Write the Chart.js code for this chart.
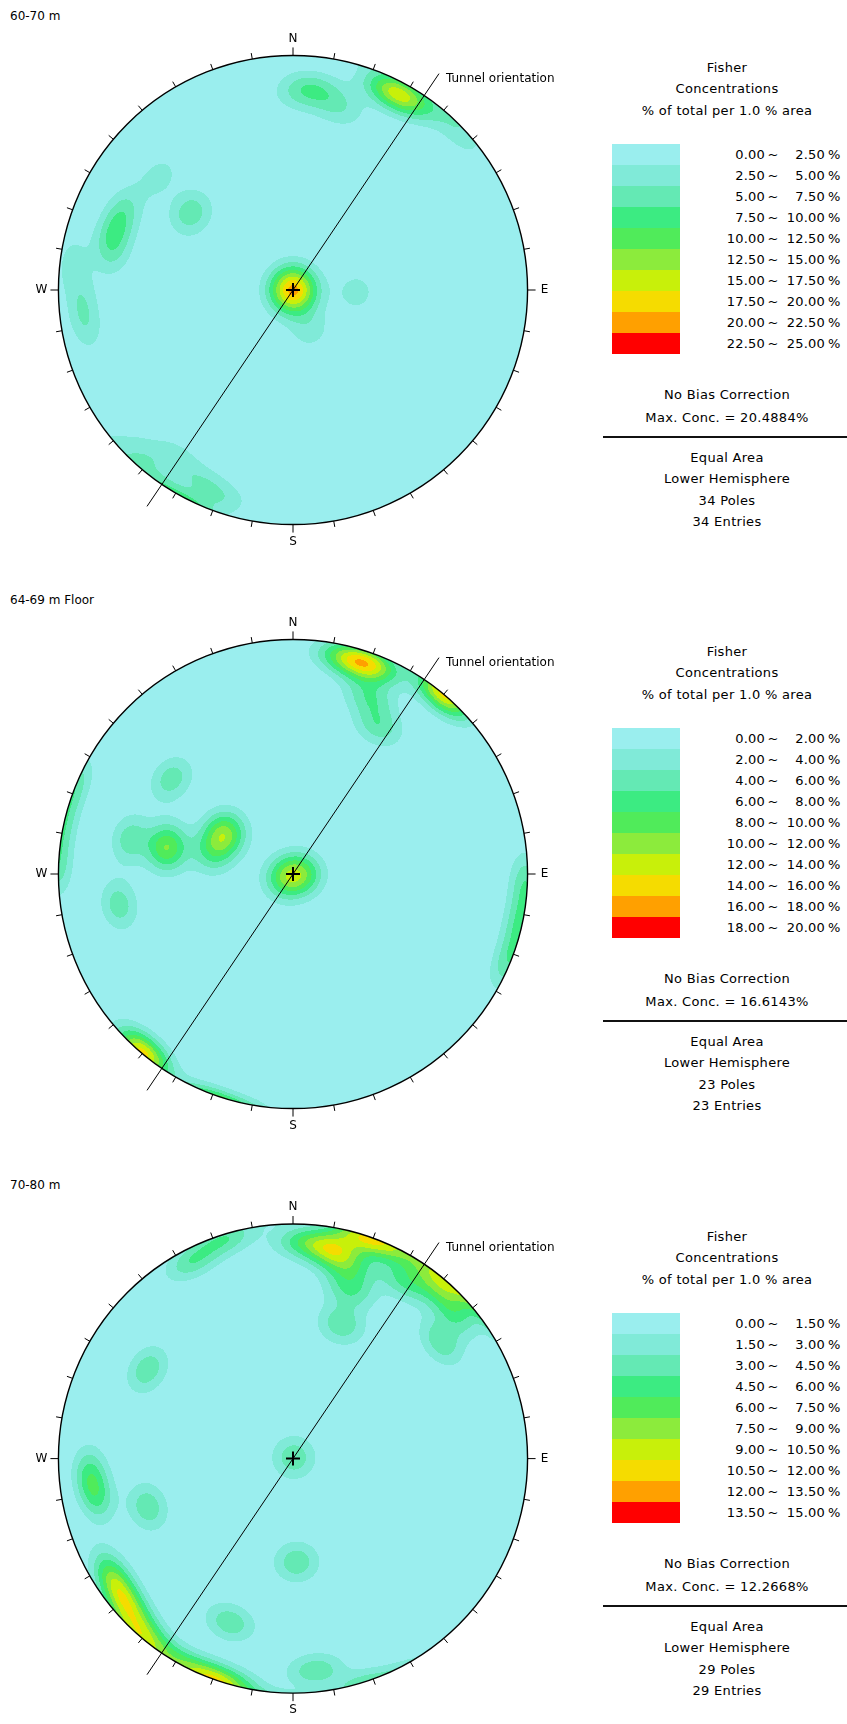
<!DOCTYPE html>
<html><head><meta charset="utf-8">
<script src="https://cdn.jsdelivr.net/npm/chart.js@4.4.1/dist/chart.umd.min.js"></script>
<style>
html,body{margin:0;padding:0;background:#fff;}
body{width:847px;height:1724px;position:relative;overflow:hidden;font-family:"DejaVu Sans",sans-serif;color:#000;}
.panel{position:absolute;left:0;width:847px;}
.title{position:absolute;left:10px;top:9px;font-size:12px;line-height:14px;white-space:nowrap;}
canvas{position:absolute;left:0;top:0;}
.ct{position:absolute;left:602px;width:250px;text-align:center;font-size:13px;line-height:20px;letter-spacing:0.3px;white-space:nowrap;}
.box{position:absolute;left:612px;width:68px;height:21px;}
.lab{position:absolute;font-size:13px;line-height:21px;white-space:nowrap;letter-spacing:0.2px;}
.rule{position:absolute;left:603px;width:244px;height:2px;background:#111;}
</style>
</head><body>
<script>
// ---------------- data ----------------
const panelTitles = ['60-70 m', '64-69 m Floor', '70-80 m'];
const contourSteps = [2.5, 2.0, 1.5];               // % per contour interval
const maxConcText = ['20.4884', '16.6143', '12.2668'];
const tunnelTrend = 34;                             // degrees
const fisherK = 120;
const levelColors = ['#9aeeee','#80ead8','#64e9b4','#3ceb82','#50eb5a','#8ceb3c','#c8f00a','#f5dc00','#ffa000','#ff0000'];

// poles (trend / plunge, degrees)
const poles1Trend  = [0,20,80,140,200,260,320, 157, 92, 310, 308,306, 285.9,281.6,290.9,267.4,259.9,277,295.9, 4,10,15,2, 28.8,27,30.6,28.5,36,23.7, 47, 205,215,222,198.8];
const poles1Plunge = [90,86.7,86.7,86.7,86.7,86.7,86.7, 75, 68, 26, 43,46, 19.9,23,22.4,10.7,11.6,5.7,20.7, 13,16.5,22,18, 5.3,5.1,5.6,8.2,3,6, 2.7, 10.6,14,6.3,6.9];
const poles2Trend  = [0,90,240, 302.6,298.8,284.8, 283.1,280.7,282.1, 308, 260, 92,102,112, 19,17,22,12,23.5,30, 219,221,40];
const poles2Plunge = [90,86,86, 61.1,63.4,60.9, 43,45.6,29.7, 34.5, 25.6, 1,1.5,1, 5.7,7.5,4.5,5,19,28, 1,2,2];
const poles3Trend  = [35, 301.5, 266,259, 251.6, 178, 201, 174, 343,333, 51.7, 11,9.6,16,18.7,19.8,20,2, 224,229,233,238,219,210,202,195, 39.4,48,32];
const poles3Plunge = [89.5, 28, 14,16, 35, 53.5, 26, 10, 2,6, 20.5, 10.9,9.1,16,25,39,2,8, 4,7,7.5,9.5,2,0.5,0.8,0.5, 5,8,12];

const poleTrends  = [poles1Trend, poles2Trend, poles3Trend];
const polePlunges = [poles1Plunge, poles2Plunge, poles3Plunge];

// ---------------- layout ----------------
const panelTops = [0, 584, 1169];
const panelHeights = [580, 580, 555];
const netCenter = {x: 293, y: 290};
const netRadius = 242;
const canvasW = 586;

const D = Math.PI / 180;
function hexRgb(h){ return [parseInt(h.substr(1,2),16), parseInt(h.substr(3,2),16), parseInt(h.substr(5,2),16)]; }
const rgbColors = levelColors.map(hexRgb);

const stereoPlugin = {
  id: 'stereo',
  beforeDatasetsDraw(chart, args, opts) {
    const {ctx} = chart; const xs = chart.scales.x, ys = chart.scales.y;
    const cx = xs.getPixelForValue(0), cy = ys.getPixelForValue(0);
    const R = xs.getPixelForValue(1) - cx;
    const vecs = opts.trends.map((t, i) => {
      const p = opts.plunges[i];
      return [Math.cos(p*D)*Math.sin(t*D), Math.cos(p*D)*Math.cos(t*D), Math.sin(p*D)];
    });
    const N = vecs.length, k = opts.k, step = opts.step;
    const x0 = Math.floor(cx - R) - 2, y0 = Math.floor(cy - R) - 2;
    const w = Math.ceil(2*R) + 5, h = Math.ceil(2*R) + 5;
    const off = document.createElement('canvas'); off.width = w; off.height = h;
    const octx = off.getContext('2d'); const img = octx.createImageData(w, h); const dd = img.data;
    for (let j = 0; j < h; j++) {
      let vy = ys.getValueForPixel(y0 + j + 0.5);
      for (let i = 0; i < w; i++) {
        let vx = xs.getValueForPixel(x0 + i + 0.5);
        let r2 = vx*vx + vy*vy;
        if (r2 > 1.03) continue;
        let ux = vx, uy = vy;
        if (r2 > 1) { const s = 1/Math.sqrt(r2); ux *= s; uy *= s; r2 = 1; }
        const s2 = Math.sqrt(2 - r2);
        const gx = ux*s2, gy = uy*s2, gz = 1 - r2;
        let sum = 0;
        for (let m = 0; m < N; m++) {
          const v = vecs[m];
          const c = Math.abs(gx*v[0] + gy*v[1] + gz*v[2]);
          if (c > 0.9) sum += Math.exp(k*(c - 1));
        }
        const val = sum * k / N;
        const lev = Math.min(9, Math.floor(val / step));
        const col = rgbColors[lev];
        const o = (j*w + i)*4;
        dd[o] = col[0]; dd[o+1] = col[1]; dd[o+2] = col[2]; dd[o+3] = 255;
      }
    }
    octx.putImageData(img, 0, 0);
    ctx.save();
    ctx.beginPath(); ctx.arc(cx, cy, R, 0, Math.PI*2); ctx.clip();
    ctx.drawImage(off, x0, y0);
    ctx.restore();
    // primitive circle and 10-degree ticks
    ctx.save();
    ctx.strokeStyle = '#000'; ctx.lineWidth = 1.4;
    ctx.beginPath(); ctx.arc(cx, cy, R, 0, Math.PI*2); ctx.stroke();
    ctx.lineWidth = 1;
    for (let a = 0; a < 360; a += 10) {
      const len = (a % 90 === 0) ? 8 : 6;
      const sx = Math.sin(a*D), sy = -Math.cos(a*D);
      ctx.beginPath();
      ctx.moveTo(cx + sx*R, cy + sy*R);
      ctx.lineTo(cx + sx*(R+len), cy + sy*(R+len));
      ctx.stroke();
    }
    ctx.restore();
  },
  afterDatasetsDraw(chart, args, opts) {
    const {ctx} = chart; const xs = chart.scales.x, ys = chart.scales.y;
    const cx = xs.getPixelForValue(0), cy = ys.getPixelForValue(0);
    const R = xs.getPixelForValue(1) - cx;
    ctx.save();
    ctx.fillStyle = '#000';
    ctx.font = '12px "DejaVu Sans"';
    ctx.textAlign = 'center'; ctx.textBaseline = 'middle';
    const L = R + 17;
    ctx.fillText('N', cx, cy - L);
    ctx.fillText('S', cx, cy + L);
    ctx.fillText('E', cx + L, cy);
    ctx.fillText('W', cx - L, cy);
    const t = chart.data.datasets[0].data[0];
    ctx.textAlign = 'left';
    ctx.fillText('Tunnel orientation', xs.getPixelForValue(t.x) + 7, ys.getPixelForValue(t.y) + 5);
    ctx.restore();
  }
};

function buildPanel(p) {
  const top = panelTops[p], H = panelHeights[p];
  const panel = document.createElement('div');
  panel.className = 'panel'; panel.style.top = top + 'px'; panel.style.height = H + 'px';
  document.body.appendChild(panel);

  const title = document.createElement('div');
  title.className = 'title'; title.textContent = panelTitles[p];
  panel.appendChild(title);

  const cv = document.createElement('canvas');
  cv.width = canvasW; cv.height = H;
  cv.style.width = canvasW + 'px'; cv.style.height = H + 'px';
  panel.appendChild(cv);

  const ext = 1.113;
  const tunnelPts = [
    {x: ext*Math.sin(tunnelTrend*D), y: ext*Math.cos(tunnelTrend*D)},
    {x: -ext*Math.sin(tunnelTrend*D), y: -ext*Math.cos(tunnelTrend*D)}
  ];

  new Chart(cv, {
    type: 'scatter',
    data: { datasets: [
      { type: 'line', data: tunnelPts, borderColor: '#000', borderWidth: 1, pointRadius: 0, fill: false, tension: 0 },
      { type: 'scatter', data: [{x: 0, y: 0}], pointStyle: 'cross', pointRadius: 7, borderColor: '#000', borderWidth: 2, backgroundColor: '#000' }
    ]},
    options: {
      responsive: false, animation: false, devicePixelRatio: 1, events: [],
      layout: { padding: 0 },
      scales: {
        x: { type: 'linear', display: false, min: -netCenter.x/netRadius, max: (canvasW - netCenter.x)/netRadius },
        y: { type: 'linear', display: false, min: -(H - netCenter.y)/netRadius, max: netCenter.y/netRadius }
      },
      plugins: {
        legend: { display: false }, tooltip: { enabled: false },
        stereo: { trends: poleTrends[p], plunges: polePlunges[p], k: fisherK, step: contourSteps[p] }
      }
    },
    plugins: [stereoPlugin]
  });

  // legend / info block
  const addText = (txt, cyc) => {
    const d = document.createElement('div'); d.className = 'ct'; d.textContent = txt;
    d.style.top = (cyc - 10) + 'px'; panel.appendChild(d);
  };
  addText('Fisher', 68);
  addText('Concentrations', 89);
  addText('% of total per 1.0 % area', 110.5);
  const step = contourSteps[p];
  for (let i = 0; i < levelColors.length; i++) {
    const b = document.createElement('div'); b.className = 'box';
    b.style.top = (143.5 + 21*i) + 'px'; b.style.background = levelColors[i];
    panel.appendChild(b);
    const rowTop = 143.5 + 21*i;
    const mk = (txt, left, width, align) => {
      const s = document.createElement('div'); s.className = 'lab'; s.textContent = txt;
      s.style.left = left + 'px'; s.style.width = width + 'px'; s.style.textAlign = align;
      s.style.top = rowTop + 'px'; panel.appendChild(s);
    };
    mk((i*step).toFixed(2), 700, 65, 'right');
    mk('~', 767, 12, 'center');
    mk(((i+1)*step).toFixed(2), 760, 65, 'right');
    mk('%', 828, 14, 'left');
  }
  addText('No Bias Correction', 395);
  addText('Max. Conc. = ' + maxConcText[p] + '%', 418);
  const rule = document.createElement('div'); rule.className = 'rule'; rule.style.top = '436px';
  panel.appendChild(rule);
  const n = poleTrends[p].length;
  addText('Equal Area', 458);
  addText('Lower Hemisphere', 479);
  addText(n + ' Poles', 501);
  addText(n + ' Entries', 522);
}
for (let p = 0; p < 3; p++) buildPanel(p);
</script>
</body></html>
